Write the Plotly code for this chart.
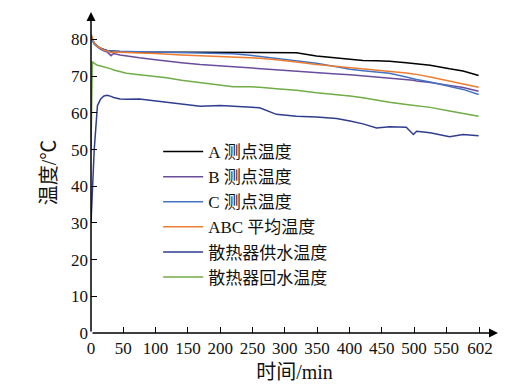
import plotly.graph_objects as go

t = [0, 2, 5, 10, 15, 20, 25, 31, 35, 45, 55, 75, 100, 117, 140, 169, 200, 220, 246, 261,
     287, 300, 318, 349, 380, 401, 421, 442, 462, 488, 499, 504, 525, 555, 576, 600]

a_temp = [81.0, 80.0, 79.0, 78.2, 77.6, 77.3, 77.0, 76.9, 76.8, 76.7, 76.6, 76.6, 76.5, 76.5, 76.5,
          76.5, 76.5, 76.6, 76.6, 76.5, 76.5, 76.4, 76.4, 75.5, 75.0, 74.6, 74.3, 74.2, 74.1, 73.7,
          73.5, 73.5, 73.0, 72.0, 71.4, 70.2]
b_temp = [81.5, 80.0, 78.8, 78.0, 77.3, 76.9, 76.6, 75.6, 76.2, 75.8, 75.5, 75.0, 74.5, 74.1, 73.7,
          73.2, 72.8, 72.5, 72.3, 72.1, 71.8, 71.6, 71.4, 70.9, 70.6, 70.4, 70.1, 69.9, 69.6, 69.1,
          68.9, 68.7, 68.3, 67.5, 66.9, 65.9]
c_temp = [81.0, 79.8, 78.8, 78.0, 77.5, 77.2, 77.0, 76.9, 76.8, 76.7, 76.7, 76.6, 76.6, 76.5, 76.4,
          76.3, 76.2, 76.1, 75.7, 75.4, 74.9, 74.6, 74.2, 73.5, 72.6, 71.9, 71.5, 71.1, 70.8, 69.8,
          69.3, 69.1, 68.4, 67.3, 66.4, 65.0]
abc_avg = [81.5, 80.2, 79.0, 78.1, 77.5, 77.1, 76.9, 76.4, 76.6, 76.5, 76.4, 76.3, 76.2, 76.0, 75.8,
           75.6, 75.4, 75.3, 75.05, 74.9, 74.5, 74.3, 73.9, 73.2, 72.7, 72.3, 72.0, 71.7, 71.4, 70.9,
           70.6, 70.5, 69.8, 68.7, 68.0, 67.0]
supply = [30.0, 40.0, 50.0, 62.0, 63.8, 64.6, 64.8, 64.5, 64.2, 63.8, 63.7, 63.8, 63.3, 62.8, 62.5,
          61.8, 62.0, 61.8, 61.5, 61.4, 59.6, 59.4, 59.1, 58.9, 58.5, 57.8, 57.0, 55.9, 56.2, 56.1,
          54.1, 55.0, 54.6, 53.5, 54.1, 53.8]
ret = [49.5, 74.0, 73.5, 73.0, 72.8, 72.6, 72.4, 72.0, 71.7, 71.2, 70.8, 70.4, 70.0, 69.6, 68.9,
       68.2, 67.6, 67.1, 67.1, 67.0, 66.6, 66.5, 66.2, 65.5, 65.0, 64.6, 64.1, 63.4, 62.9, 62.3,
       62.1, 62.0, 61.5, 60.5, 59.9, 59.1]

names = ["A 测点温度", "B 测点温度", "C 测点温度", "ABC 平均温度", "散热器供水温度", "散热器回水温度"]
series = [a_temp, b_temp, c_temp, abc_avg, supply, ret]
colors = ["#000000", "#6a4c9c", "#4472c4", "#ed7d31", "#2f3d8f", "#70ad47"]

x_ticks = [0, 50, 100, 150, 200, 250, 300, 350, 400, 450, 500, 550, 602]
y_ticks = [0, 10, 20, 30, 40, 50, 60, 70, 80]

FONT = "'Liberation Serif', 'Times New Roman', 'Noto Sans CJK SC', serif"

fig = go.Figure()
for name, ys, col in zip(names, series, colors):
    fig.add_trace(go.Scatter(x=t, y=ys, mode="lines", name=name,
                             line=dict(color=col, width=1.5)))

fig.update_layout(
    width=514, height=390,
    margin=dict(l=83, r=24, t=4, b=65),
    plot_bgcolor="white", paper_bgcolor="white",
    font=dict(family=FONT, size=17, color="#111"),
    showlegend=True,
    legend=dict(x=0.165, y=0.62, xanchor="left", yanchor="top",
                bgcolor="rgba(0,0,0,0)", font=dict(size=17, family=FONT),
                tracegroupgap=0, itemwidth=40),
    xaxis=dict(range=[0, 630], tickvals=x_ticks, ticktext=[str(v) for v in x_ticks],
               ticks="inside", ticklen=6, tickcolor="black", showgrid=False, zeroline=False,
               showline=False, automargin=False, ticklabelstandoff=3,
               title=dict(text="时间/min", standoff=7),
               tickfont=dict(size=17, family=FONT)),
    yaxis=dict(range=[0, 87.5], tickvals=y_ticks, ticks="inside", ticklen=6, tickcolor="black",
               showgrid=False, zeroline=False, showline=False, automargin=False,
               ticklabelstandoff=2,
               title=dict(text="温度/℃", standoff=9), tickfont=dict(size=17, family=FONT)),
)

# axis lines with arrowheads
fig.add_annotation(x=630, y=0, ax=0, ay=0, xref="x", yref="y", axref="x", ayref="y",
                   showarrow=True, arrowhead=2, arrowsize=1.2, arrowwidth=1.5,
                   arrowcolor="black", text="", standoff=0)
fig.add_annotation(x=0, y=87.5, ax=0, ay=0, xref="x", yref="y", axref="x", ayref="y",
                   showarrow=True, arrowhead=2, arrowsize=1.2, arrowwidth=1.5,
                   arrowcolor="black", text="", standoff=0)

fig.write_html("out.html")
